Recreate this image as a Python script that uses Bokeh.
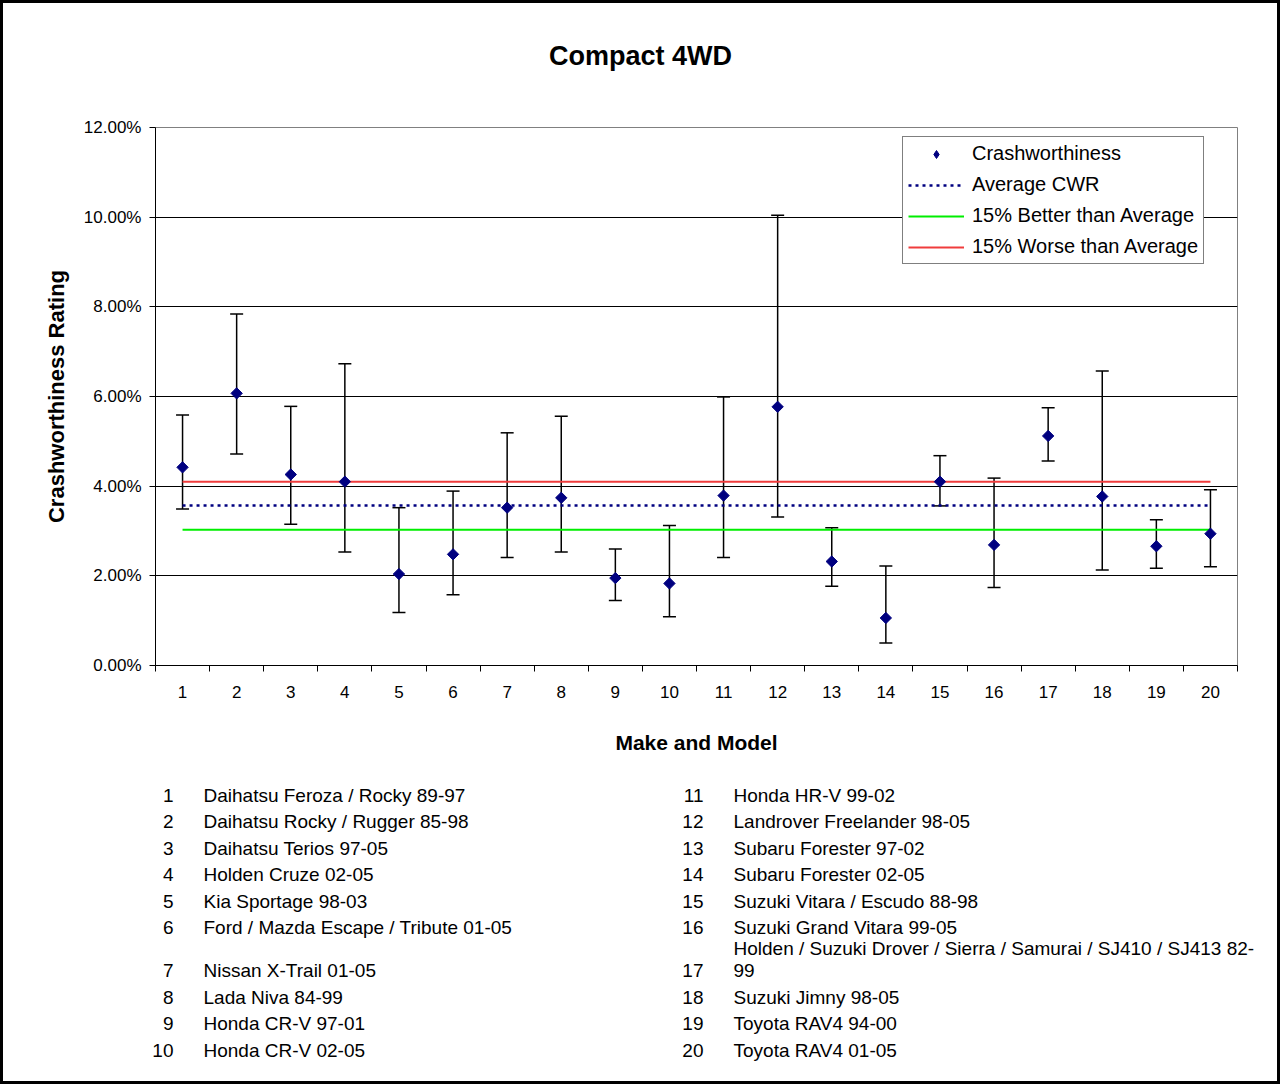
from bokeh.plotting import figure
from bokeh.layouts import column
from bokeh.models import (ColumnDataSource, Whisker, TeeHead, FixedTicker, Range1d,
                          NumeralTickFormatter, Legend, LegendItem)
from bokeh.core.properties import value
from bokeh.embed import file_html
from bokeh.resources import INLINE

# ---------------- data ----------------
categories = list(range(1, 21))
tick_labels = [str(c) for c in categories]
cwr = [0.0442, 0.0607, 0.0426, 0.0410, 0.0204, 0.0248, 0.0352, 0.0374, 0.0195, 0.0183,
       0.0379, 0.0577, 0.0232, 0.0106, 0.0410, 0.0269, 0.0512, 0.0377, 0.0266, 0.0294]
cwr_upper = [0.0559, 0.0784, 0.0578, 0.0673, 0.0352, 0.0389, 0.0519, 0.0556, 0.0260, 0.0312,
             0.0599, 0.1004, 0.0307, 0.0222, 0.0468, 0.0418, 0.0575, 0.0657, 0.0325, 0.0392]
cwr_lower = [0.0349, 0.0472, 0.0315, 0.0253, 0.0118, 0.0158, 0.0241, 0.0253, 0.0145, 0.0109,
             0.0241, 0.0331, 0.0177, 0.0050, 0.0356, 0.0174, 0.0456, 0.0213, 0.0217, 0.0220]
average_cwr = 0.0357
better_15 = 0.0303
worse_15 = 0.0410
y_ticks = [0.0, 0.02, 0.04, 0.06, 0.08, 0.10, 0.12]
models = [
    "Daihatsu Feroza / Rocky 89-97",
    "Daihatsu Rocky / Rugger 85-98",
    "Daihatsu Terios 97-05",
    "Holden Cruze 02-05",
    "Kia Sportage 98-03",
    "Ford / Mazda Escape / Tribute 01-05",
    "Nissan X-Trail 01-05",
    "Lada Niva 84-99",
    "Honda CR-V 97-01",
    "Honda CR-V 02-05",
    "Honda HR-V 99-02",
    "Landrover Freelander 98-05",
    "Subaru Forester 97-02",
    "Subaru Forester 02-05",
    "Suzuki Vitara / Escudo 88-98",
    "Suzuki Grand Vitara 99-05",
    "Holden / Suzuki Drover / Sierra / Samurai / SJ410 / SJ413 82-\n99",
    "Suzuki Jimny 98-05",
    "Toyota RAV4 94-00",
    "Toyota RAV4 01-05",
]
title_text = "Compact 4WD"

FONT = "Liberation Sans"
W = 1274
OX, OY = 3, 3          # canvas origin on screen (inside 3px border)
TITLE_H = 97           # screen 3..100
CHART_H = 680          # screen 100..780
LIST_H = 301           # screen 780..1081


def blank_fig(h):
    f = figure(width=W, height=h, x_range=Range1d(0, W), y_range=Range1d(h, 0),
               output_backend="svg", toolbar_location=None,
               x_axis_type=None, y_axis_type=None, frame_align=False,
               min_border=0, min_border_left=0, min_border_right=0,
               min_border_top=0, min_border_bottom=0)
    f.outline_line_color = None
    f.xgrid.visible = False
    f.ygrid.visible = False
    return f


# ---------------- title ----------------
ft = blank_fig(TITLE_H)
ft.text(x=[640 - OX], y=[55 - OY], text=[title_text], text_align="center",
        text_baseline="middle", text_font=value(FONT), text_font_size=value("27px"),
        text_font_style="bold", text_color="black")

# ---------------- chart ----------------
top0 = OY + TITLE_H
p = figure(width=W, height=CHART_H, x_range=(0.5, 20.5), y_range=(0, 0.12),
           output_backend="svg", toolbar_location=None, frame_align=False,
           min_border_left=155 - OX, min_border_right=W - (1237 - OX),
           min_border_top=127 - top0, min_border_bottom=CHART_H - (665 - top0),
           background_fill_color="white", border_fill_color="white")
p.outline_line_color = "#808080"
p.outline_line_width = 1

p.xaxis.ticker = FixedTicker(ticks=categories,
                             minor_ticks=[c - 0.5 for c in categories] + [categories[-1] + 0.5])
p.xaxis.major_label_overrides = {c: t for c, t in zip(categories, tick_labels)}
p.xaxis.major_tick_line_color = None
p.xaxis.major_tick_out = 0
p.xaxis.major_tick_in = 0
p.xaxis.minor_tick_line_color = "black"
p.xaxis.minor_tick_out = 6
p.xaxis.minor_tick_in = 0
p.xaxis.major_label_standoff = 14
p.xaxis.major_label_text_font = FONT
p.xaxis.major_label_text_font_size = "17px"
p.xaxis.major_label_text_color = "black"
p.xaxis.axis_label = "Make and Model"
p.xaxis.axis_label_text_font = FONT
p.xaxis.axis_label_text_font_style = "bold"
p.xaxis.axis_label_text_font_size = "21px"
p.xaxis.axis_label_text_color = "black"
p.xaxis.axis_label_standoff = 30
p.xaxis.axis_line_color = "black"

p.yaxis.ticker = FixedTicker(ticks=y_ticks, minor_ticks=[])
p.yaxis.formatter = NumeralTickFormatter(format="0.00%")
p.yaxis.major_tick_out = 6
p.yaxis.major_tick_in = 0
p.yaxis.major_tick_line_color = "black"
p.yaxis.major_label_standoff = 8
p.yaxis.major_label_text_font = FONT
p.yaxis.major_label_text_font_size = "17px"
p.yaxis.major_label_text_color = "black"
p.yaxis.axis_label = "Crashworthiness Rating"
p.yaxis.axis_label_text_font = FONT
p.yaxis.axis_label_text_font_style = "bold"
p.yaxis.axis_label_text_font_size = "22px"
p.yaxis.axis_label_text_color = "black"
p.yaxis.axis_label_standoff = 12
p.yaxis.axis_line_color = "black"

p.xgrid.visible = False
p.ygrid.ticker = FixedTicker(ticks=y_ticks, minor_ticks=[])
p.ygrid.grid_line_color = "black"
p.ygrid.grid_line_width = 1

src = ColumnDataSource(dict(x=categories, y=cwr, upper=cwr_upper, lower=cwr_lower))
wh = Whisker(base="x", upper="upper", lower="lower", source=src,
             line_color="black", line_width=1.5,
             upper_head=TeeHead(size=13, line_color="black", line_width=1.5),
             lower_head=TeeHead(size=13, line_color="black", line_width=1.5),
             level="underlay")
p.add_layout(wh)

r_avg = p.line(x=categories, y=[average_cwr] * len(categories), line_color="#000080",
               line_width=2.5, line_dash="3 4")
r_better = p.line(x=categories, y=[better_15] * len(categories), line_color="#00EE00",
                  line_width=2)
r_worse = p.line(x=categories, y=[worse_15] * len(categories), line_color="#F03C3C",
                 line_width=2)
r_pts = p.scatter(x="x", y="y", source=src, marker="square", angle=0.785398,
                  size=8, fill_color="#000080", line_color="#000080")
# legend key glyph only (a NaN point draws nothing in the plot)
r_key = p.scatter(x=[float("nan")], y=[float("nan")], marker="diamond", size=13,
                  fill_color="#000080", line_color="#000080")

legend = Legend(items=[
    LegendItem(label="Crashworthiness", renderers=[r_key]),
    LegendItem(label="Average CWR", renderers=[r_avg]),
    LegendItem(label="15% Better than Average", renderers=[r_better]),
    LegendItem(label="15% Worse than Average", renderers=[r_worse]),
], location=(902 - 155, 665 - 264))
legend.label_text_font = FONT
legend.label_text_font_size = "20px"
legend.label_text_color = "black"
legend.glyph_width = 56
legend.glyph_height = 20
legend.label_height = 20
legend.label_standoff = 8
legend.spacing = 8
legend.padding = 5
legend.margin = 0
legend.border_line_color = "black"
legend.border_line_width = 1
legend.background_fill_color = "white"
legend.background_fill_alpha = 1
p.add_layout(legend)

# ---------------- model list ----------------
top1 = top0 + CHART_H
row_y = [795, 821, 848, 874, 901, 927, 970, 997, 1023, 1050]
num_x, num_y, num_t = [], [], []
nm_x, nm_y, nm_t = [], [], []
for i, name in enumerate(models):
    col, r = divmod(i, 10)
    y = row_y[r]
    num_x.append((173 if col == 0 else 703) - OX)
    num_y.append(y - top1)
    num_t.append(tick_labels[i])
    lines = name.split("\n")
    for k, ln in enumerate(lines):
        nm_x.append((203 if col == 0 else 733) - OX)
        nm_y.append(y - top1 - 22 * (len(lines) - 1 - k))
        nm_t.append(ln)

fl = blank_fig(LIST_H)
fl.text(x=num_x, y=num_y, text=num_t, text_align="right", text_baseline="middle",
        text_font=value(FONT), text_font_size=value("19px"), text_color="black")
fl.text(x=nm_x, y=nm_y, text=nm_t, text_align="left", text_baseline="middle",
        text_font=value(FONT), text_font_size=value("19px"), text_color="black")

layout = column(ft, p, fl, spacing=0)
layout.styles = {"border": "3px solid black"}

open("out.html", "w").write(file_html(layout, INLINE))
